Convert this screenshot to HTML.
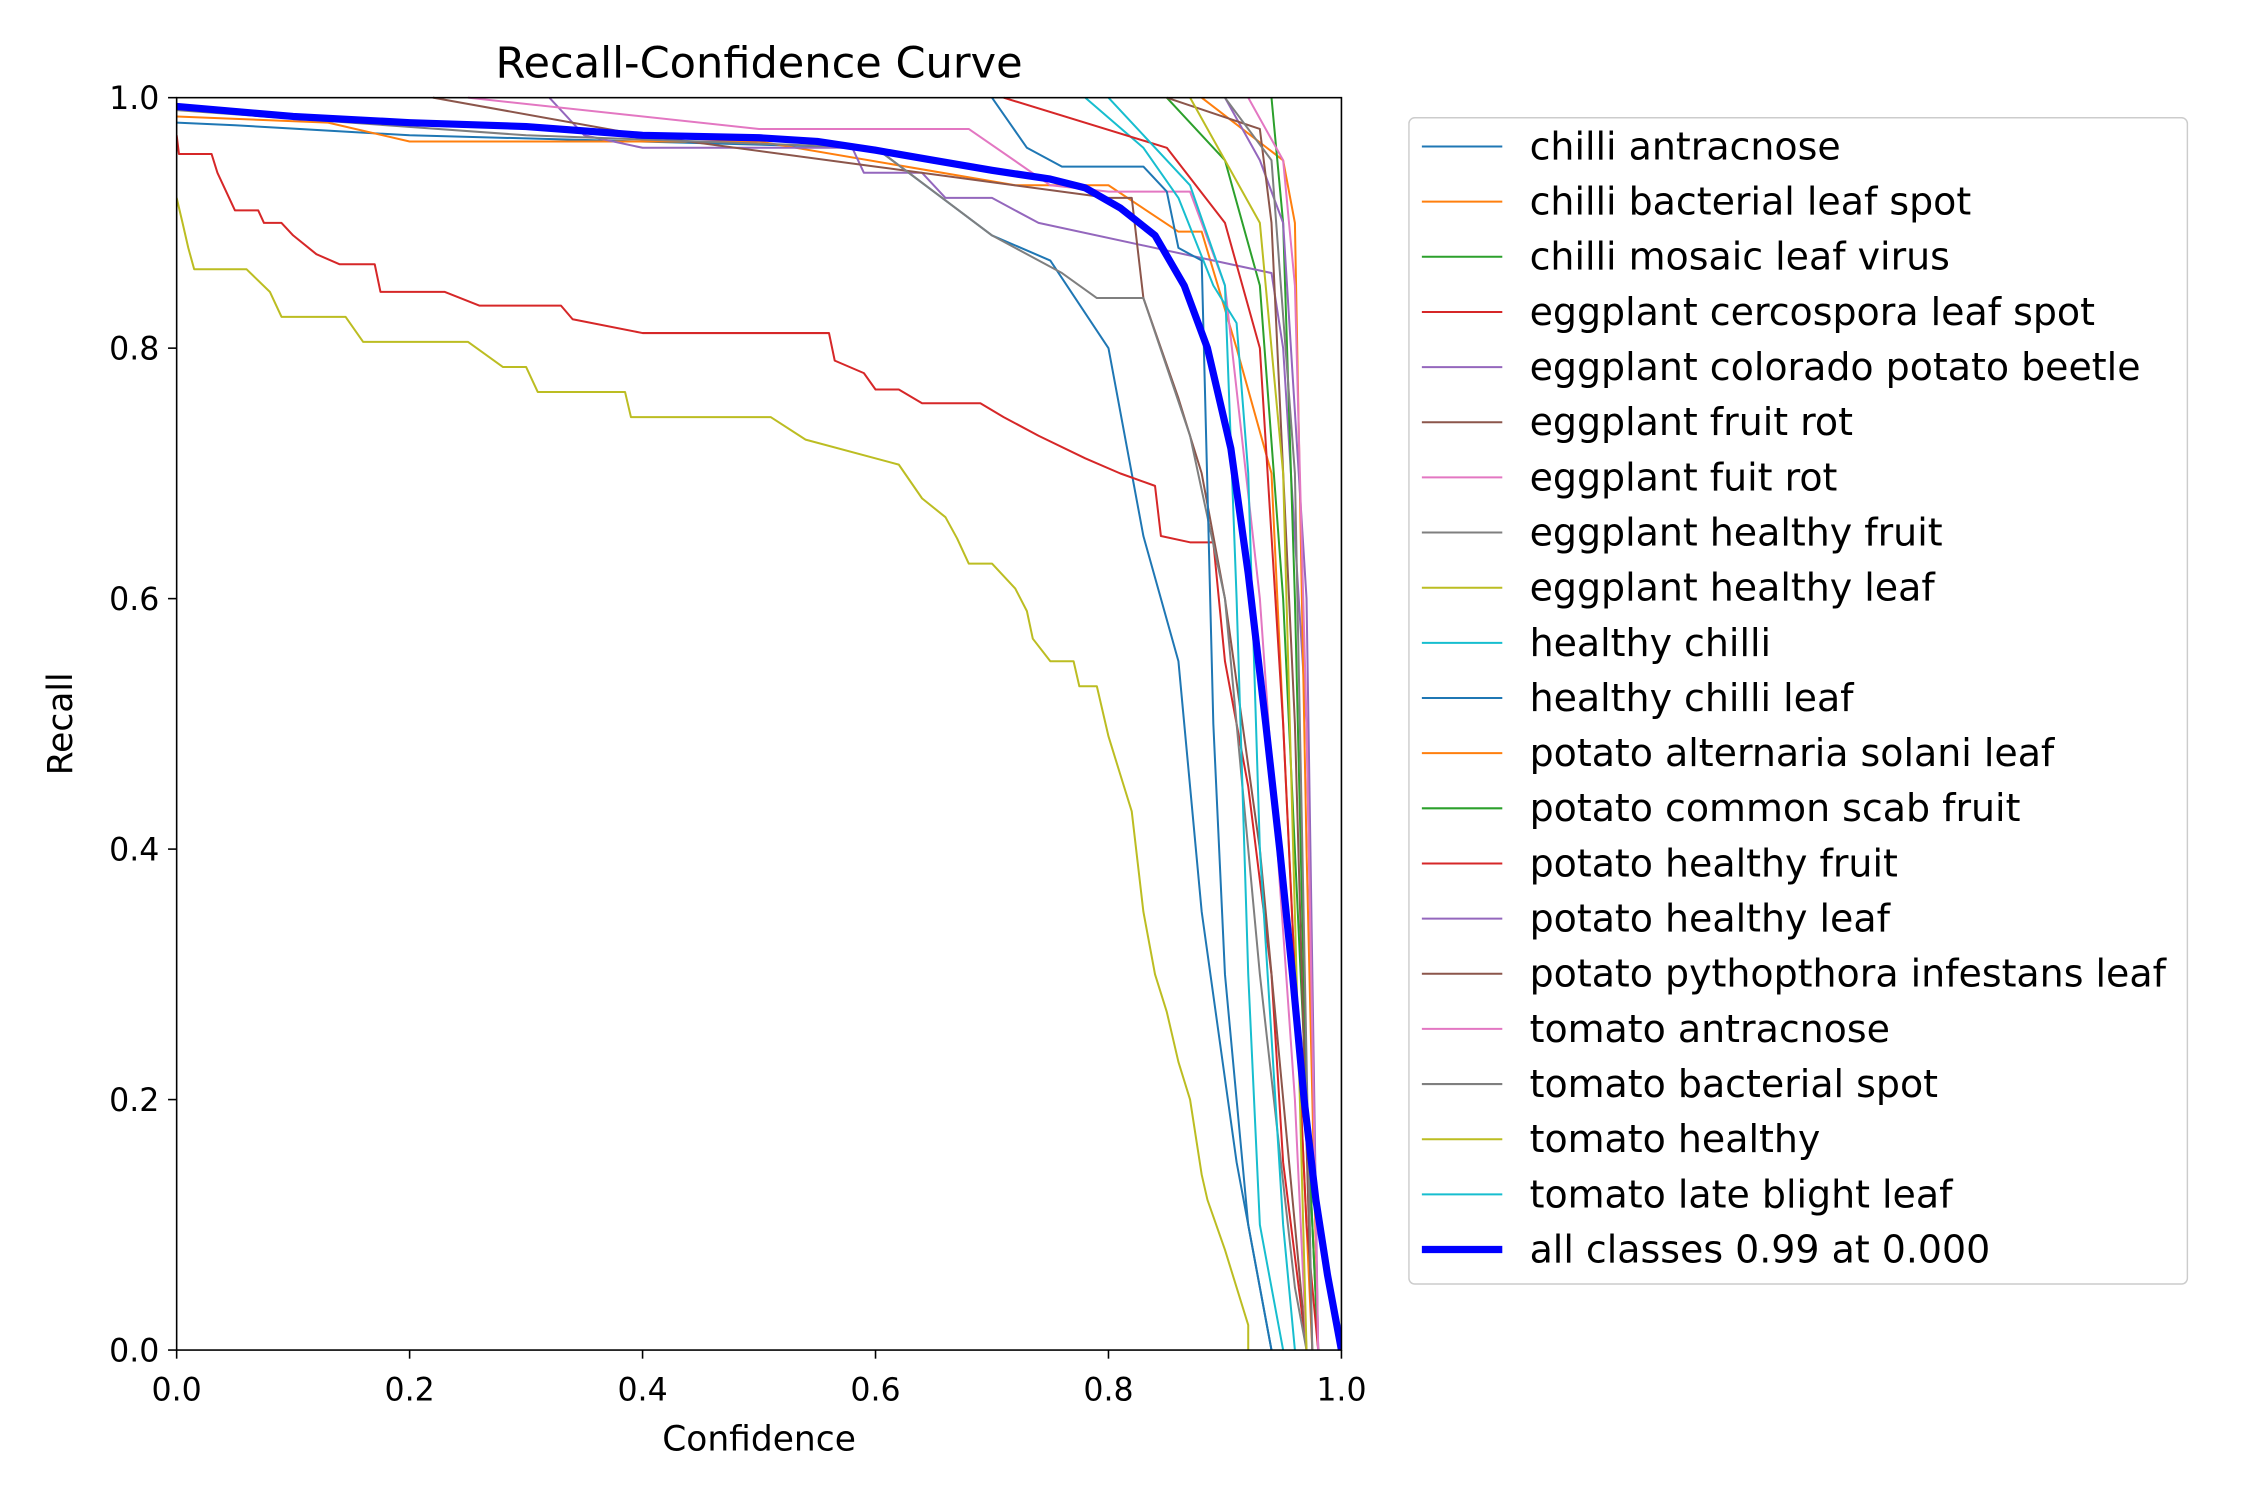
<!DOCTYPE html>
<html><head><meta charset="utf-8"><style>
html,body{margin:0;padding:0;background:#fff;}
svg{display:block;font-family:"DejaVu Sans","Liberation Sans",sans-serif;}
</style></head><body>
<svg id="chart" width="2250" height="1500" viewBox="0 0 1566.6 1044.4" xmlns="http://www.w3.org/2000/svg">
<rect width="1567" height="1045" fill="#fff"/>
<text x="528.5" y="54" font-size="30" text-anchor="middle">Recall-Confidence Curve</text>
<text x="528.5" y="1010" font-size="24" text-anchor="middle">Confidence</text>
<text transform="translate(50,504) rotate(-90)" font-size="24" text-anchor="middle">Recall</text>
<defs><clipPath id="clip"><rect x="123" y="66" width="811" height="876"/></clipPath></defs>
<g id="series" clip-path="url(#clip)"></g>
<rect x="123" y="68" width="811" height="872" fill="none" stroke="#000" stroke-width="1.1"/>
<g id="ticks"></g>
<rect x="981" y="82" width="542" height="812" rx="4" fill="#fff" stroke="#ccc" stroke-width="1"/>
<g id="legend"></g>
</svg>
<script>
const classNames = ["chilli antracnose","chilli bacterial leaf spot","chilli mosaic leaf virus","eggplant cercospora leaf spot","eggplant colorado potato beetle","eggplant fruit rot","eggplant fuit rot","eggplant healthy fruit","eggplant healthy leaf","healthy chilli","healthy chilli leaf","potato alternaria solani leaf","potato common scab fruit","potato healthy fruit","potato healthy leaf","potato pythopthora infestans leaf","tomato antracnose","tomato bacterial spot","tomato healthy","tomato late blight leaf"];
const xTicks = [0,0.2,0.4,0.6,0.8,1.0];
const yTicks = [0,0.2,0.4,0.6,0.8,1.0];
const s0 = [[0,0.98],[0.05,0.978],[0.2,0.97],[0.6,0.96],[0.65,0.925],[0.7,0.89],[0.75,0.87],[0.8,0.8],[0.83,0.65],[0.86,0.55],[0.88,0.35],[0.91,0.15],[0.94,0]];
const s1 = [[0,0.985],[0.13,0.98],[0.2,0.965],[0.5,0.965],[0.72,0.93],[0.8,0.93],[0.86,0.893],[0.88,0.893],[0.91,0.8],[0.94,0.7],[0.96,0.3],[0.975,0]];
const s2 = [[0.85,1],[0.9,0.95],[0.93,0.85],[0.95,0.6],[0.97,0.2],[0.98,0]];
const s3 = [[0,0.97],[0.002,0.955],[0.03,0.955],[0.035,0.94],[0.05,0.91],[0.07,0.91],[0.075,0.9],[0.09,0.9],[0.1,0.89],[0.12,0.875],[0.14,0.867],[0.17,0.867],[0.175,0.845],[0.23,0.845],[0.26,0.834],[0.33,0.834],[0.34,0.823],[0.4,0.812],[0.56,0.812],[0.565,0.79],[0.59,0.78],[0.6,0.767],[0.62,0.767],[0.64,0.756],[0.69,0.756],[0.71,0.745],[0.74,0.73],[0.78,0.712],[0.81,0.7],[0.84,0.69],[0.845,0.65],[0.87,0.645],[0.89,0.645],[0.9,0.55],[0.92,0.45],[0.94,0.3],[0.95,0.15],[0.97,0]];
const s4 = [[0.32,1],[0.35,0.97],[0.4,0.96],[0.58,0.96],[0.59,0.94],[0.64,0.94],[0.66,0.92],[0.7,0.92],[0.74,0.9],[0.94,0.86],[0.95,0.8],[0.97,0.5],[0.98,0]];
const s5 = [[0.22,1],[0.4,0.97],[0.6,0.945],[0.8,0.92],[0.82,0.92],[0.83,0.84],[0.86,0.76],[0.88,0.7],[0.9,0.6],[0.93,0.4],[0.96,0.1],[0.97,0]];
const s6 = [[0.25,1],[0.5,0.975],[0.68,0.975],[0.75,0.93],[0.8,0.925],[0.87,0.925],[0.9,0.85],[0.93,0.6],[0.96,0.2],[0.97,0]];
const s7 = [[0,0.99],[0.3,0.97],[0.6,0.96],[0.7,0.89],[0.76,0.86],[0.79,0.84],[0.83,0.84],[0.87,0.73],[0.9,0.6],[0.93,0.3],[0.96,0.05],[0.97,0]];
const s8 = [[0,0.92],[0.005,0.9],[0.01,0.88],[0.015,0.863],[0.06,0.863],[0.08,0.845],[0.09,0.825],[0.145,0.825],[0.16,0.805],[0.25,0.805],[0.28,0.785],[0.3,0.785],[0.31,0.765],[0.385,0.765],[0.39,0.745],[0.51,0.745],[0.54,0.727],[0.62,0.707],[0.64,0.68],[0.66,0.665],[0.67,0.648],[0.68,0.628],[0.7,0.628],[0.72,0.608],[0.73,0.59],[0.735,0.568],[0.75,0.55],[0.77,0.55],[0.775,0.53],[0.79,0.53],[0.8,0.49],[0.81,0.46],[0.82,0.43],[0.83,0.35],[0.84,0.3],[0.85,0.27],[0.86,0.23],[0.87,0.2],[0.88,0.14],[0.885,0.12],[0.9,0.08],[0.91,0.05],[0.92,0.02],[0.92,0]];
const s9 = [[0.78,1],[0.83,0.96],[0.86,0.92],[0.89,0.85],[0.91,0.82],[0.92,0.7],[0.93,0.4],[0.95,0.1],[0.96,0]];
const s10 = [[0.7,1],[0.73,0.96],[0.76,0.945],[0.83,0.945],[0.85,0.925],[0.86,0.88],[0.88,0.87],[0.89,0.5],[0.9,0.3],[0.92,0.1],[0.94,0]];
const s11 = [[0.88,1],[0.95,0.95],[0.96,0.9],[0.97,0.4],[0.98,0]];
const s12 = [[0.94,1],[0.95,0.9],[0.96,0.6],[0.97,0.2],[0.98,0]];
const s13 = [[0.71,1],[0.85,0.96],[0.9,0.9],[0.93,0.8],[0.95,0.5],[0.97,0.1],[0.98,0]];
const s14 = [[0.9,1],[0.93,0.95],[0.95,0.9],[0.97,0.6],[0.98,0]];
const s15 = [[0.85,1],[0.93,0.975],[0.94,0.9],[0.96,0.5],[0.975,0]];
const s16 = [[0.92,1],[0.95,0.95],[0.96,0.85],[0.97,0.5],[0.98,0]];
const s17 = [[0.9,1],[0.94,0.95],[0.96,0.7],[0.975,0]];
const s18 = [[0.87,1],[0.9,0.95],[0.93,0.9],[0.95,0.7],[0.97,0]];
const s19 = [[0.8,1],[0.87,0.93],[0.9,0.85],[0.91,0.6],[0.92,0.3],[0.93,0.1],[0.95,0]];
const allClasses = [[0,0.993],[0.1,0.985],[0.2,0.98],[0.3,0.977],[0.4,0.97],[0.5,0.968],[0.55,0.965],[0.6,0.958],[0.65,0.95],[0.7,0.942],[0.75,0.935],[0.78,0.928],[0.81,0.912],[0.84,0.89],[0.865,0.85],[0.885,0.8],[0.905,0.72],[0.92,0.62],[0.935,0.5],[0.947,0.4],[0.958,0.3],[0.968,0.2],[0.978,0.12],[0.988,0.06],[1,0]];
const allLabel = "all classes 0.99 at 0.000";
const seriesData = [s0,s1,s2,s3,s4,s5,s6,s7,s8,s9,s10,s11,s12,s13,s14,s15,s16,s17,s18,s19];

const palette = ["#1f77b4","#ff7f0e","#2ca02c","#d62728","#9467bd","#8c564b","#e377c2","#7f7f7f","#bcbd22","#17becf"];
const NS = "http://www.w3.org/2000/svg";
const X0=123,X1=934,Y0=940,Y1=68;
function xs(v){return X0+(X1-X0)*v;}
function ys(v){return Y0-(Y0-Y1)*v;}
function mk(tag,attrs,parent){const e=document.createElementNS(NS,tag);for(const k in attrs)e.setAttribute(k,attrs[k]);parent.appendChild(e);return e;}

const g=document.getElementById('series');
seriesData.forEach((d,i)=>{
  const p=mk('polyline',{points:d.map(q=>xs(q[0]).toFixed(1)+','+ys(q[1]).toFixed(1)).join(' '),fill:'none',stroke:palette[i%10],'stroke-width':1.4,'stroke-linejoin':'round'},g);
  
  
});
const pa=mk('polyline',{points:allClasses.map(q=>xs(q[0]).toFixed(1)+','+ys(q[1]).toFixed(1)).join(' '),fill:'none',stroke:'#0000ff','stroke-width':5,'stroke-linejoin':'round'},g);



const t=document.getElementById('ticks');
xTicks.forEach(v=>{
  const l=mk('line',{x1:xs(v),x2:xs(v),y1:Y0,y2:Y0+6,stroke:'#000','stroke-width':1.1},t);
  
  
  const tx=mk('text',{x:xs(v),y:Y0+35,'font-size':22,'text-anchor':'middle'},t);
  tx.textContent=v.toFixed(1);
  
  
});
yTicks.forEach(v=>{
  const l=mk('line',{x1:X0-6,x2:X0,y1:ys(v),y2:ys(v),stroke:'#000','stroke-width':1.1},t);
  
  
  const tx=mk('text',{x:X0-12,y:ys(v)+8,'font-size':22,'text-anchor':'end'},t);
  tx.textContent=v.toFixed(1);
  
  
});

const lg=document.getElementById('legend');
const labels=classNames.concat([allLabel]);
labels.forEach((name,i)=>{
  const y=102+i*38.4;
  const isAll=i===20;
  const l=mk('line',{x1:990,x2:1046,y1:y,y2:y,stroke:isAll?'#0000ff':palette[i%10],'stroke-width':isAll?5:1.4},lg);
  
  
  const tx=mk('text',{x:1065,y:y+9,'font-size':26.4},lg);
  tx.textContent=name;
  
  
});
</script>
</body></html>
